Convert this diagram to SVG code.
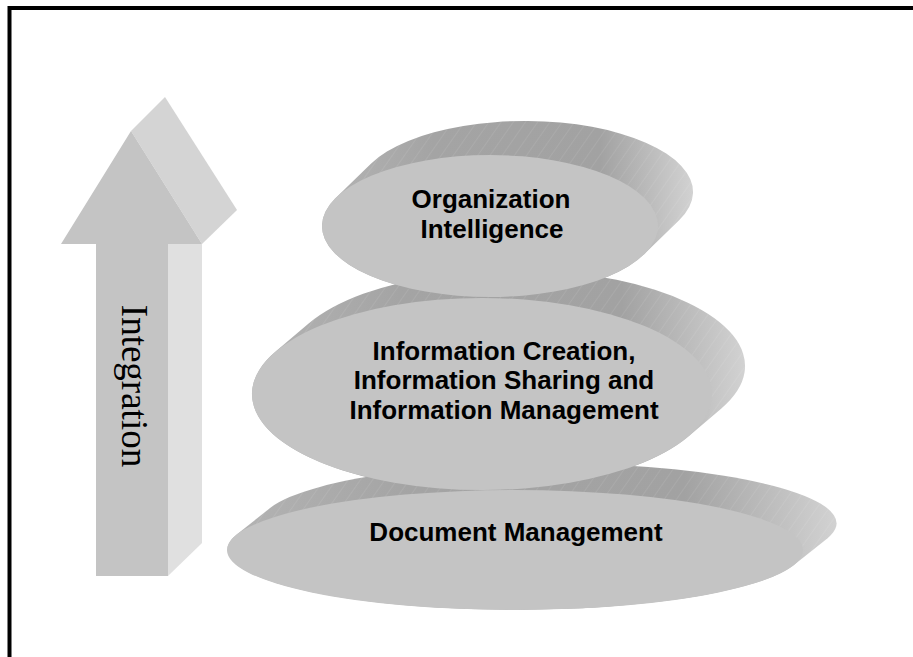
<svg xmlns="http://www.w3.org/2000/svg" width="913" height="657" viewBox="0 0 913 657">
<defs>
<style>
.front{fill:#c4c4c4}
.lbl{font-family:"Liberation Sans",Arial,sans-serif;font-weight:bold;font-size:26px;fill:#000;text-anchor:middle}
</style>
<linearGradient id="ext" x1="0" y1="0" x2="1" y2="0">
<stop offset="0" stop-color="#b4b4b4"/>
<stop offset="0.3" stop-color="#a4a4a4"/>
<stop offset="0.75" stop-color="#a2a2a2"/>
<stop offset="1" stop-color="#d2d2d2"/>
</linearGradient>
<pattern id="hatch" width="10" height="10" patternUnits="userSpaceOnUse" patternTransform="rotate(35)">
<line x1="0" y1="0" x2="0" y2="10" stroke="#ffffff" stroke-opacity="0.16" stroke-width="1"/>
</pattern>
</defs>
<rect width="913" height="657" fill="#fff"/>
<path d="M9.5 657 V8 H913" fill="none" stroke="#000" stroke-width="4"/>

<g id="arrow">
<polygon points="131,131 165,97 237,210 202,244" fill="#d4d4d4"/>
<polygon points="168,244 202,244 202,543 168,576" fill="#e0e0e0"/>
<polygon class="front" points="61,244 131,131 202,244 168,244 168,576 96,576 96,244"/>
<text transform="translate(122,386) rotate(90)" text-anchor="middle" font-family="'Liberation Serif','Times New Roman',serif" font-size="37" fill="#000">Integration</text>
</g>

<g id="disk-document-management">
<path d="M236.4 534.8 L270.4 507.8 A288 60 0 0 1 827.6 538.2 L793.6 565.2 A288 60 0 0 1 236.4 534.8 Z" fill="url(#ext)"/>
<path d="M236.4 534.8 L270.4 507.8 A288 60 0 0 1 827.6 538.2 L793.6 565.2 A288 60 0 0 1 236.4 534.8 Z" fill="url(#hatch)"/>
<ellipse class="front" cx="515" cy="550" rx="288" ry="60"/>
<text class="lbl" x="516" y="541">Document Management</text>
</g>

<g id="disk-information">
<path d="M275.6 351.6 L308.6 323.6 A230 96 0 0 1 721.4 408.4 L688.4 436.4 A230 96 0 0 1 275.6 351.6 Z" fill="url(#ext)"/>
<path d="M275.6 351.6 L308.6 323.6 A230 96 0 0 1 721.4 408.4 L688.4 436.4 A230 96 0 0 1 275.6 351.6 Z" fill="url(#hatch)"/>
<ellipse class="front" cx="482" cy="394" rx="230" ry="96"/>
<text class="lbl" x="504" y="360">Information Creation,</text>
<text class="lbl" x="504" y="389">Information Sharing and</text>
<text class="lbl" x="504" y="419">Information Management</text>
</g>

<g id="disk-organization">
<path d="M335.9 197.7 L370.9 163.7 A168 71 0 0 1 679.1 220.3 L644.1 254.3 A168 71 0 0 1 335.9 197.7 Z" fill="url(#ext)"/>
<path d="M335.9 197.7 L370.9 163.7 A168 71 0 0 1 679.1 220.3 L644.1 254.3 A168 71 0 0 1 335.9 197.7 Z" fill="url(#hatch)"/>
<ellipse class="front" cx="490" cy="226" rx="168" ry="71"/>
<text class="lbl" x="491" y="208">Organization</text>
<text class="lbl" x="492" y="238">Intelligence</text>
</g>

<g id="connectors"/>
</svg>
